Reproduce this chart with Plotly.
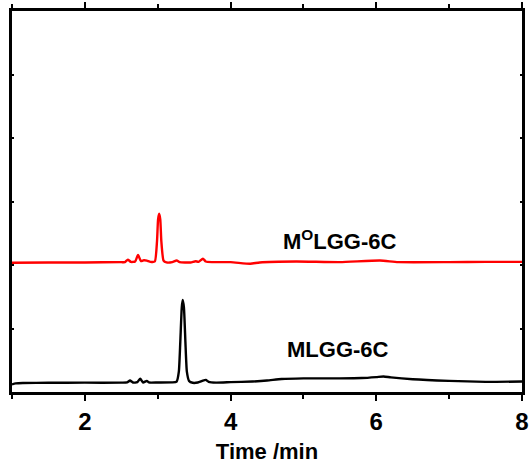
import plotly.graph_objects as go

# Chromatogram of MLGG-6C (black)
t_mlgg = [1.00, 1.05, 1.15, 1.5, 2.0, 2.5, 2.58, 2.62, 2.66, 2.72, 2.76, 2.80, 2.85, 2.88,
          3.0, 3.2, 3.26, 3.29, 3.31, 3.33, 3.343, 3.36, 3.38, 3.40, 3.43, 3.48, 3.55,
          3.62, 3.66, 3.70, 3.8, 4.0, 4.3, 4.5, 4.7, 5.0, 5.5, 5.8, 6.0, 6.1, 6.2, 6.5,
          7.0, 7.5, 8.0]
i_mlgg = [12, 13.5, 14.2, 14.5, 14.7, 14.7, 15, 18, 15, 15.5, 21, 15, 17.5, 15,
          15, 15.2, 16.5, 32, 79, 133, 145, 133, 79, 32, 17.5, 14.5, 15,
          18, 19, 16, 14.8, 15.5, 16.5, 18, 20.5, 21.5, 21.5, 22, 23.5, 24.5, 23, 20,
          17.5, 16, 16.5]

# Chromatogram of MOLGG-6C (red)
t_molgg = [1.0, 1.5, 2.0, 2.5, 2.55, 2.59, 2.63, 2.69, 2.73, 2.77, 2.81, 2.85, 2.90, 2.96,
           2.99, 3.005, 3.02, 3.035, 3.05, 3.08, 3.12, 3.2, 3.26, 3.30, 3.45, 3.52, 3.56,
           3.62, 3.66, 3.75, 4.0, 4.27, 4.4, 4.9, 5.5, 6.05, 6.3, 7.0, 7.5, 8.0]
i_molgg = [203.5, 204, 204, 204.5, 204.5, 208.5, 205, 205.5, 216, 206, 207.5, 207, 205, 205.5,
           237, 272, 280.6, 272, 237, 207, 204, 204.5, 207, 204.5, 204, 206, 205,
           210, 205.5, 204.5, 204.5, 202, 204, 205.5, 204.5, 207, 204.5, 204.5, 205, 205]

x_ticks = [2, 4, 6, 8]
font_family = "Arial, Liberation Sans, sans-serif"

fig = go.Figure()
fig.add_trace(go.Scatter(x=t_mlgg, y=i_mlgg, mode="lines",
                         line=dict(color="black", width=2.4, shape="spline", smoothing=0.5),
                         showlegend=False))
fig.add_trace(go.Scatter(x=t_molgg, y=i_molgg, mode="lines",
                         line=dict(color="#ff0000", width=2.4, shape="spline", smoothing=0.5),
                         showlegend=False))

label_font = dict(family=font_family, size=22, color="black", weight="bold")
fig.add_annotation(x=5.50, y=240, text="M<sup>O</sup>LGG-6C", showarrow=False,
                   font=label_font, xanchor="center", yanchor="middle")
fig.add_annotation(x=5.47, y=67, text="MLGG-6C", showarrow=False,
                   font=label_font, xanchor="center", yanchor="middle")

fig.update_layout(
    width=531, height=464,
    margin=dict(l=12, r=9, t=11, b=72),
    paper_bgcolor="white", plot_bgcolor="white",
    font=dict(family=font_family, color="black"),
    xaxis=dict(
        range=[1, 8], tickvals=x_ticks, ticktext=[str(v) for v in x_ticks],
        ticks="outside", ticklen=6, tickwidth=2, tickcolor="black",
        minor=dict(dtick=1, tick0=1, ticks="outside", ticklen=4, tickwidth=2, tickcolor="black"),
        showline=True, linewidth=2.5, linecolor="black", mirror="ticks",
        showgrid=False, zeroline=False, automargin=False,
        tickfont=dict(family=font_family, size=24, color="black", weight="bold"),
        title=dict(text="Time /min", standoff=12,
                   font=dict(family=font_family, size=22, color="black", weight="bold")),
    ),
    yaxis=dict(
        range=[0, 600], dtick=100, showticklabels=False,
        ticks="inside", ticklen=2, tickwidth=2, tickcolor="black",
        showline=True, linewidth=2.5, linecolor="black", mirror="ticks",
        showgrid=False, zeroline=False, automargin=False,
    ),
)

fig.write_html("out.html")
